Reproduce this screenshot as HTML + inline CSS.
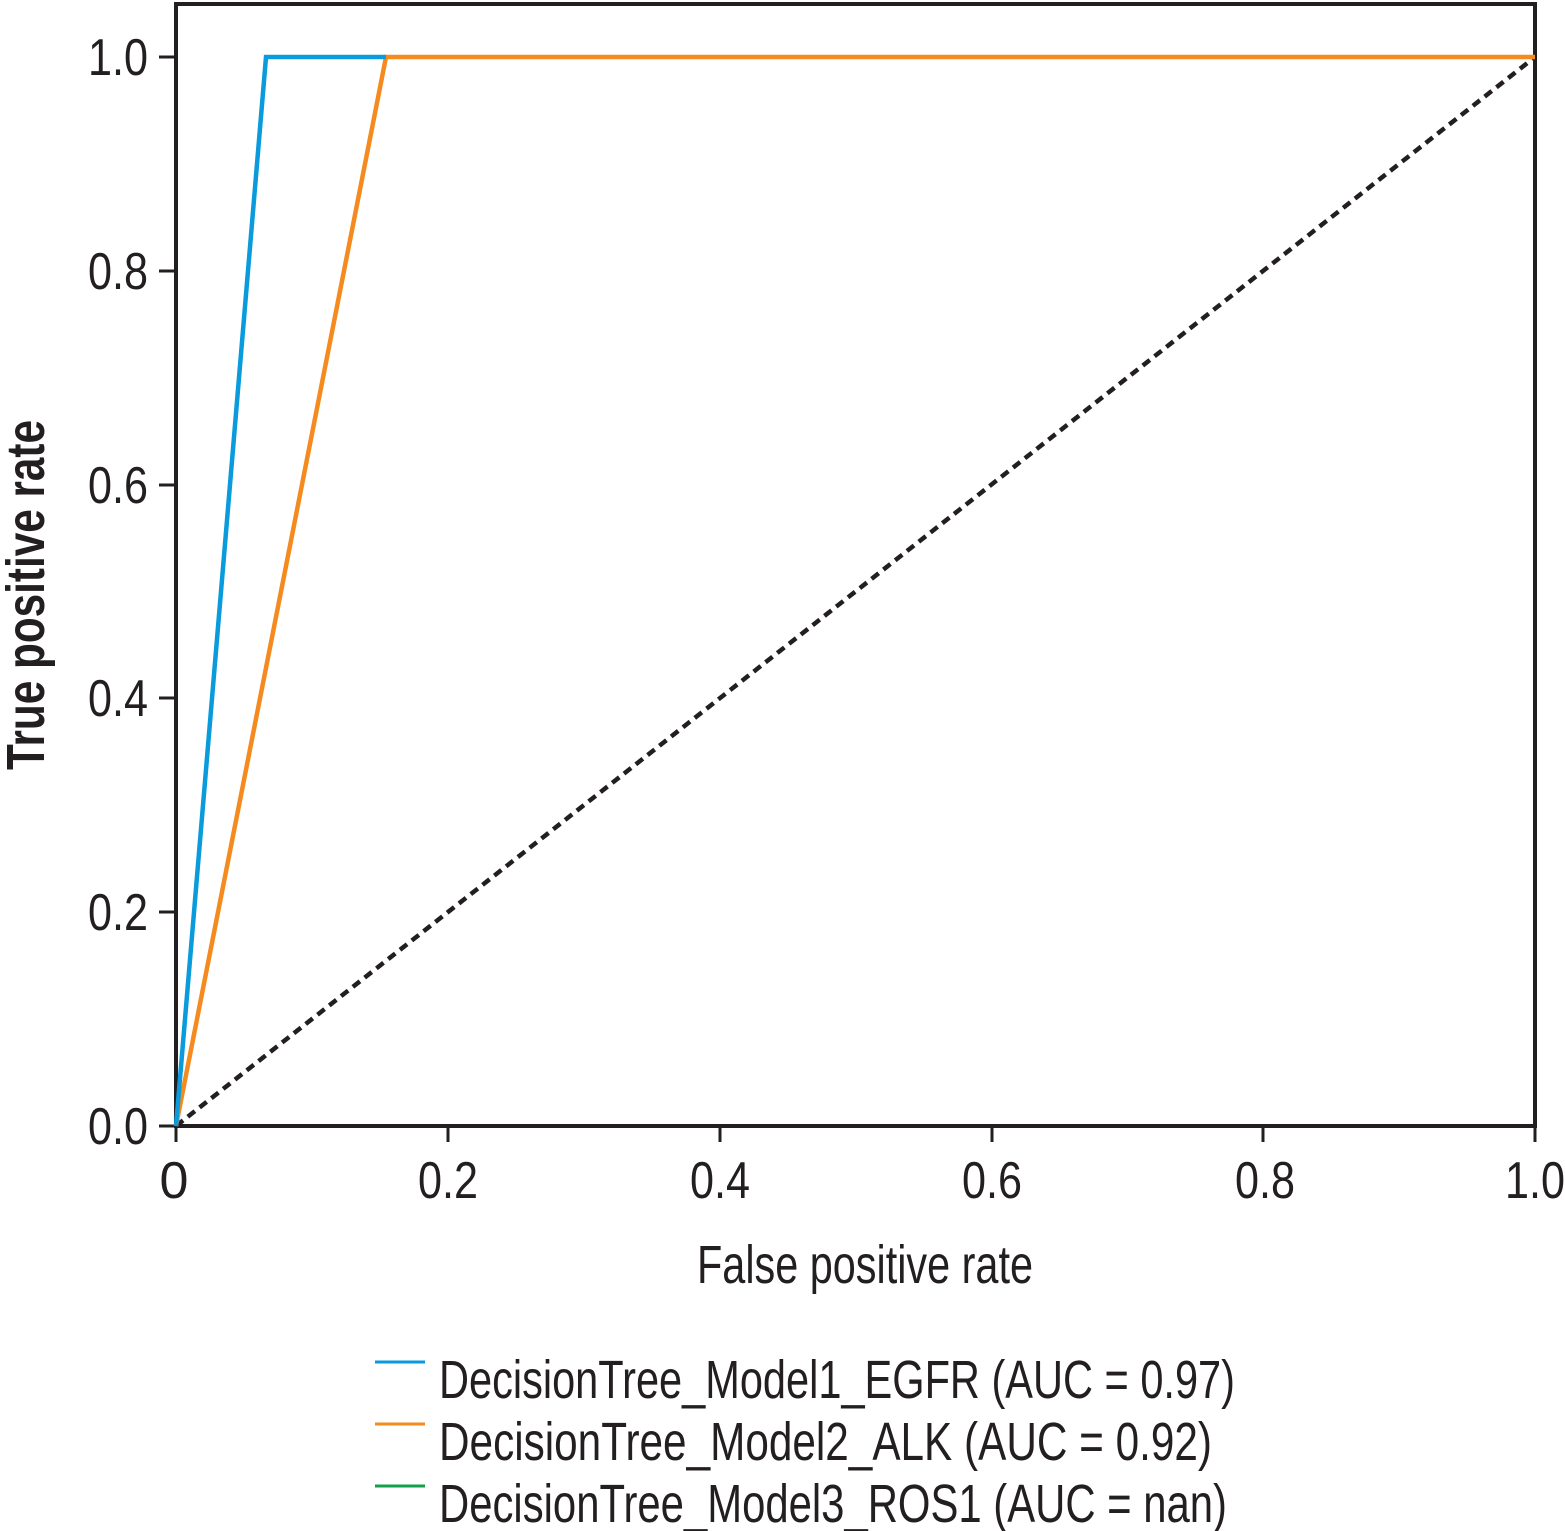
<!DOCTYPE html>
<html><head><style>body{margin:0;background:#fff}svg{display:block}</style></head><body>
<svg width="1565" height="1531" viewBox="0 0 1565 1531" xmlns="http://www.w3.org/2000/svg" font-family="Liberation Sans, sans-serif" fill="#231f20">
<rect x="176" y="4" width="1359" height="1122" fill="none" stroke="#231f20" stroke-width="4"/>
<g stroke="#231f20" stroke-width="3">
<line x1="159" y1="57" x2="176" y2="57"/><line x1="159" y1="271" x2="176" y2="271"/><line x1="159" y1="485" x2="176" y2="485"/><line x1="159" y1="698" x2="176" y2="698"/><line x1="159" y1="912" x2="176" y2="912"/><line x1="159" y1="1126" x2="176" y2="1126"/>
<line x1="176" y1="1126" x2="176" y2="1142"/><line x1="448" y1="1126" x2="448" y2="1142"/><line x1="720" y1="1126" x2="720" y2="1142"/><line x1="992" y1="1126" x2="992" y2="1142"/><line x1="1263" y1="1126" x2="1263" y2="1142"/><line x1="1535" y1="1126" x2="1535" y2="1142"/>
</g>
<g font-size="52" text-anchor="end">
<text x="148" y="75" textLength="60" lengthAdjust="spacingAndGlyphs">1.0</text>
<text x="148" y="289" textLength="60" lengthAdjust="spacingAndGlyphs">0.8</text>
<text x="148" y="503" textLength="60" lengthAdjust="spacingAndGlyphs">0.6</text>
<text x="148" y="716" textLength="60" lengthAdjust="spacingAndGlyphs">0.4</text>
<text x="148" y="930" textLength="60" lengthAdjust="spacingAndGlyphs">0.2</text>
<text x="148" y="1144" textLength="60" lengthAdjust="spacingAndGlyphs">0.0</text>
</g>
<g font-size="52" text-anchor="middle">
<text x="174" y="1198">0</text>
<text x="448" y="1198" textLength="60" lengthAdjust="spacingAndGlyphs">0.2</text>
<text x="720" y="1198" textLength="60" lengthAdjust="spacingAndGlyphs">0.4</text>
<text x="992" y="1198" textLength="60" lengthAdjust="spacingAndGlyphs">0.6</text>
<text x="1265" y="1198" textLength="60" lengthAdjust="spacingAndGlyphs">0.8</text>
<text x="1535" y="1198" textLength="60" lengthAdjust="spacingAndGlyphs">1.0</text>
</g>
<text x="865" y="1283" font-size="54" text-anchor="middle" textLength="336" lengthAdjust="spacingAndGlyphs">False positive rate</text>
<text transform="translate(44,595) rotate(-90)" font-size="54" font-weight="bold" text-anchor="middle" textLength="350" lengthAdjust="spacingAndGlyphs">True positive rate</text>
<line x1="176" y1="1126" x2="1535" y2="57" stroke="#231f20" stroke-width="4.5" stroke-dasharray="9,6"/>
<polyline points="176,1126 386,57 1535,57" fill="none" stroke="#f58a1f" stroke-width="4.5"/>
<polyline points="176,1126 266,57 386,57" fill="none" stroke="#0a9bdc" stroke-width="4.5"/>
<line x1="375" y1="1362" x2="425" y2="1362" stroke="#0a9bdc" stroke-width="3"/>
<line x1="375" y1="1424" x2="425" y2="1424" stroke="#f58a1f" stroke-width="3"/>
<line x1="375" y1="1486" x2="425" y2="1486" stroke="#14a04a" stroke-width="3"/>
<g font-size="54">
<text x="439" y="1398" textLength="796" lengthAdjust="spacingAndGlyphs">DecisionTree_Model1_EGFR (AUC = 0.97)</text>
<text x="439" y="1460" textLength="773" lengthAdjust="spacingAndGlyphs">DecisionTree_Model2_ALK (AUC = 0.92)</text>
<text x="439" y="1522" textLength="788" lengthAdjust="spacingAndGlyphs">DecisionTree_Model3_ROS1 (AUC = nan)</text>
</g>
</svg>
</body></html>
